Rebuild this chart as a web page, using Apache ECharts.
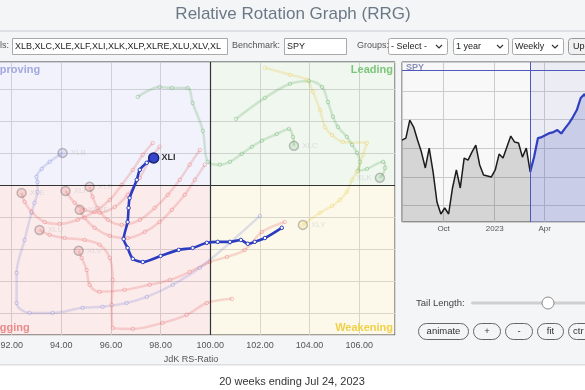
<!DOCTYPE html>
<html><head><meta charset="utf-8">
<script src="https://cdn.jsdelivr.net/npm/echarts@6/dist/echarts.min.js"></script>
<style>
html,body{margin:0;padding:0;background:#fff;}
#c{width:585px;height:390px;background:linear-gradient(#f4f5f7 0,#f4f5f7 364px,#fff 364px);}
</style></head><body><div id="c"></div>
<script>
// ---------- RRG tails (JdK RS-Ratio, JdK RS-Momentum) ----------
const xliX = [102.88,102.20,101.79,101.51,101.23,100.79,100.30,99.86,99.29,98.73,98.00,97.28,96.88,96.67,96.51,96.67,96.71,96.75,97.04,97.16,97.44,97.72];
const xliY = [98.66,98.34,98.22,98.16,98.28,98.22,98.22,98.19,98.03,97.97,97.78,97.59,97.69,98.03,98.31,98.84,99.28,99.59,100.16,100.47,100.69,100.84];

const xlkX = [101.03,102.20,103.21,103.97,104.50,104.74,104.94,105.14,105.50,105.71,105.91,106.03,105.95,106.31,106.96,107.04,106.83];
const xlkY = [102.06,102.72,103.16,103.25,103.06,102.59,102.13,101.81,101.50,101.25,101.00,100.72,100.44,100.50,100.72,100.53,100.22];

const xlcX = [97.08,97.96,98.45,99.09,99.29,99.70,99.90,100.38,100.79,101.27,101.67,102.08,102.68,103.17,103.33,103.37];
const xlcY = [102.75,103.06,103.03,103.03,102.56,101.69,100.72,100.63,100.72,100.97,101.19,101.38,101.59,101.75,101.50,101.22];

const xlyX = [102.20,103.21,103.89,104.13,104.42,104.62,104.90,105.34,106.31,106.15,105.91,105.71,105.50,105.22,104.90,104.42,103.73];
const xlyY = [103.66,103.44,103.28,102.91,102.34,101.81,101.56,101.34,101.31,100.94,100.41,100.16,99.78,99.53,99.34,99.13,98.75];

const xlbX = [102.00,100.79,99.58,98.49,97.44,96.63,95.66,94.86,93.65,92.72,92.20,92.20,92.52,92.80,92.92,93.04,93.04,93.00,93.21,93.53,94.05];
const xlbY = [99.03,98.19,97.41,96.88,96.50,96.31,96.19,96.16,96.00,96.00,96.31,97.25,98.28,99.13,99.44,99.78,100.09,100.25,100.50,100.72,101.00];

const xleX = [97.68,97.28,96.88,96.43,95.95,95.34,94.66,93.93,93.33,92.80,92.52,92.40];
const xleY = [101.31,100.94,100.47,100.00,99.53,99.16,98.91,98.78,98.84,99.16,99.47,99.75];

const xlfX = [97.96,97.56,97.16,96.67,96.15,95.54,94.94,94.54,94.17];
const xlfY = [101.19,100.78,100.22,99.69,99.31,99.13,99.22,99.44,99.81];

const xlpX = [99.58,99.17,98.77,98.29,97.76,97.16,96.43,95.87,95.46,95.26,95.14];
const xlpY = [101.09,100.63,100.16,99.69,99.28,98.91,98.75,98.91,99.28,99.63,99.94];

const xlreX = [99.78,99.38,98.97,98.45,97.96,97.36,96.67,95.95,95.34,94.94,94.74];
const xlreY = [100.63,100.16,99.69,99.22,98.84,98.53,98.34,98.41,98.66,98.97,99.22];

const xluX = [100.87,99.86,99.05,98.08,96.88,96.07,96.03,96.07,95.95,95.54,94.94,94.13,93.53,93.12];
const xluY = [96.44,96.31,95.94,95.69,95.50,95.53,96.25,97.03,97.72,98.13,98.28,98.34,98.44,98.59];

const xlvX = [103.00,102.08,101.39,100.67,99.98,99.17,98.37,97.56,96.55,95.54,95.14,95.02,94.82,94.70];
const xlvY = [98.84,98.53,97.97,97.75,97.59,97.28,97.03,96.88,96.72,96.66,96.88,97.34,97.72,97.94];

// ---------- SPY weekly ----------
const spyDates = ['2022-07-18','2022-07-25','2022-08-01','2022-08-08','2022-08-15','2022-08-22','2022-08-29','2022-09-05','2022-09-12','2022-09-19','2022-09-26','2022-10-03','2022-10-10','2022-10-17','2022-10-24','2022-10-31','2022-11-07','2022-11-14','2022-11-21','2022-11-28','2022-12-05','2022-12-12','2022-12-19','2022-12-26','2023-01-02','2023-01-09','2023-01-16','2023-01-23','2023-01-30','2023-02-06','2023-02-13','2023-02-20','2023-02-27','2023-03-06','2023-03-13','2023-03-20','2023-03-27','2023-04-03','2023-04-10','2023-04-17','2023-04-24','2023-05-01','2023-05-08','2023-05-15','2023-05-22','2023-05-29','2023-06-05','2023-06-12','2023-06-19','2023-06-26','2023-07-03','2023-07-10','2023-07-17','2023-07-24'];
const spyClose = [425.7,427.1,439.7,434.8,425.7,417.3,406.2,420.1,403.4,382.4,374.0,378.2,374.0,392.2,404.8,392.2,413.1,411.7,417.3,422.2,408.3,401.3,400.6,399.9,404.8,415.9,413.1,420.8,428.5,424.3,423.6,413.8,420.1,403.4,
  413.8,427.1,427.8,429.2,430.6,431.3,432.7,430.3,434.1,437.6,441.8,446.7,455.1,457.9,452.0,461.0,457.0,468.0,471.0,474.7];
const tailStartIndex = 33;
const monthNames = ['Jan','Feb','Mar','Apr','May','Jun','Jul','Aug','Sep','Oct','Nov','Dec'];

const quadrantNames = ['Improving','Leading','Lagging','Weakening'];
const symbolsText = 'XLB,XLC,XLE,XLF,XLI,XLK,XLP,XLRE,XLU,XLV,XLY';

// ---------- build ----------
const FONT = 'Arial, "Liberation Sans", sans-serif';
function tail(name, xs, ys, color, headFill, labelPos) {
  const data = xs.map((x, i) => [x, ys[i]]);
  const n = data.length - 1;
  data[n] = {
    value: data[n], symbolSize: 9,
    itemStyle: {color: headFill, borderColor: '#777', borderWidth: 1.5, opacity: 0.45},
    label: {show: true, formatter: name, position: labelPos || 'right', distance: 3, fontSize: 8, color: '#c0c0c0', fontFamily: FONT}
  };
  return {
    type: 'line', name, xAxisIndex: 0, yAxisIndex: 0, data, smooth: 0.35,
    symbol: 'circle', symbolSize: 3.5, silent: true, z: 3,
    lineStyle: {color, width: 2.5, opacity: 0.2},
    itemStyle: {color: '#fff', borderColor: color, borderWidth: 1, opacity: 0.3},
    emphasis: {disabled: true}
  };
}
const RED = '#e04848', REDH = 'rgba(224,72,72,0.35)';
const series = [
  { type: 'line', xAxisIndex: 0, yAxisIndex: 0, data: [[100, 100]], symbol: 'none', lineStyle: {width: 0}, z: 1, silent: true,
    markArea: { silent: true, data: [
      [{xAxis: 90, yAxis: 100, itemStyle: {color: 'rgba(100,110,215,0.09)'}}, {xAxis: 100, yAxis: 103.84}],
      [{xAxis: 100, yAxis: 100, itemStyle: {color: 'rgba(80,170,80,0.09)'}}, {xAxis: 107.44, yAxis: 103.84}],
      [{xAxis: 90, yAxis: 95.31, itemStyle: {color: 'rgba(230,60,60,0.10)'}}, {xAxis: 100, yAxis: 100}],
      [{xAxis: 100, yAxis: 95.31, itemStyle: {color: 'rgba(230,200,60,0.10)'}}, {xAxis: 107.44, yAxis: 100}]
    ]},
    markLine: { silent: true, symbol: 'none', label: {show: false}, lineStyle: {color: '#333', width: 1.2, type: 'solid'},
      data: [{xAxis: 100}, {yAxis: 100}] }
  },
  tail('XLK', xlkX, xlkY, '#3c9a3c', 'rgba(60,154,60,0.3)', 'left'),
  tail('XLC', xlcX, xlcY, '#3c9a3c', 'rgba(60,154,60,0.3)'),
  tail('XLY', xlyX, xlyY, '#e8bf20', 'rgba(232,191,32,0.35)'),
  tail('XLB', xlbX, xlbY, '#6870d0', 'rgba(104,112,208,0.3)'),
  tail('XLE', xleX, xleY, RED, REDH),
  tail('XLF', xlfX, xlfY, RED, REDH),
  tail('XLP', xlpX, xlpY, RED, REDH),
  tail('XLRE', xlreX, xlreY, RED, REDH),
  tail('XLU', xluX, xluY, RED, REDH),
  tail('XLV', xlvX, xlvY, RED, REDH)
];
(function () {
  const data = xliX.map((x, i) => [x, xliY[i]]);
  const n = data.length - 1;
  data[n] = { value: data[n], symbolSize: 10,
    itemStyle: {color: '#3447cc', borderColor: '#1b2170', borderWidth: 1.5},
    label: {show: true, formatter: 'XLI', position: 'right', distance: 2, fontSize: 9, fontWeight: 'bold', color: '#333', fontFamily: FONT} };
  series.push({ type: 'line', name: 'XLI', xAxisIndex: 0, yAxisIndex: 0, data, smooth: 0.25, symbol: 'circle', symbolSize: 3.5, z: 6, silent: true,
    lineStyle: {color: '#2b3cc0', width: 2.6}, itemStyle: {color: '#fff', borderColor: '#2b3cc0', borderWidth: 1}, emphasis: {disabled: true} });
})();

// SPY
series.push({ type: 'line', xAxisIndex: 1, yAxisIndex: 1, silent: true, z: 3, symbol: 'none',
  data: spyDates.slice(0, tailStartIndex + 1).map((d, i) => [d, spyClose[i]]),
  lineStyle: {color: '#1c1c1c', width: 1.5}, areaStyle: {color: 'rgba(0,0,0,0.14)', opacity: 1} });
series.push({ type: 'line', xAxisIndex: 1, yAxisIndex: 1, silent: true, z: 4, symbol: 'none',
  data: spyDates.slice(tailStartIndex).map((d, i) => [d, spyClose[i + tailStartIndex]]),
  lineStyle: {color: '#2f3fc0', width: 2.2}, areaStyle: {color: 'rgba(50,60,170,0.18)', opacity: 1},
  markArea: {silent: true, itemStyle: {color: 'rgba(90,100,200,0.07)'}, data: [[{xAxis: spyDates[tailStartIndex]}, {xAxis: '2023-07-26'}]]},
  markLine: {silent: true, symbol: 'none', label: {show: false}, lineStyle: {color: '#4c58bc', width: 1, type: 'solid'},
    data: [{xAxis: spyDates[tailStartIndex]}, {yAxis: spyClose[spyClose.length - 1]}]} });

// ---------- graphics ----------
function txt(x, y, text, size, fill, align, extra) {
  return { type: 'text', x, y, z: 50, silent: true,
    style: Object.assign({ text, fontSize: size, fill, fontFamily: FONT, align: align || 'left', textAlign: align || 'left', verticalAlign: 'middle', textVerticalAlign: 'middle' }, extra || {}) };
}
function box(x, y, w, h, r, fill, stroke) {
  return { type: 'rect', z: 49, silent: true, shape: {x, y, width: w, height: h, r: r || 0}, style: {fill: fill || 'none', stroke: stroke || 'none', lineWidth: 1} };
}
function chevron(x, y) {
  return { type: 'polyline', z: 50, silent: true, shape: {points: [[x - 3, y - 1.5], [x, y + 1.5], [x + 3, y - 1.5]]}, style: {stroke: '#333', lineWidth: 1.2, fill: 'none'} };
}
const graphics = [
  box(0, 30, 585, 2, 0, '#dcdfe3'),
  txt(293, 14, 'Relative Rotation Graph (RRG)', 17, '#6b7886', 'center'),
  txt(9, 46, 'Symbols:', 9, '#555', 'right'),
  box(12.5, 38.5, 215, 16, 0, '#fff', '#a9a9a9'),
  txt(15, 46.5, symbolsText, 9, '#222', 'left', {width: 211, overflow: 'truncate', ellipsis: ''}),
  txt(232, 46, 'Benchmark:', 9, '#555'),
  box(284.5, 38.5, 62, 16, 0, '#fff', '#a9a9a9'),
  txt(287, 46.5, 'SPY', 9, '#222'),
  txt(357, 46, 'Groups:', 9, '#555'),
  box(388.5, 38.5, 59, 16, 2, '#fff', '#a9a9a9'), txt(391, 46.5, '- Select -', 9, '#222'), chevron(439, 46.5),
  box(453.5, 38.5, 55, 16, 2, '#fff', '#a9a9a9'), txt(456, 46.5, '1 year', 9, '#222'), chevron(500, 46.5),
  box(512.5, 38.5, 51, 16, 2, '#fff', '#a9a9a9'), txt(515, 46.5, 'Weekly', 9, '#222'), chevron(555, 46.5),
  box(568.5, 38.5, 40, 16, 3, '#f0f0f0', '#999'), txt(573, 46.5, 'Update', 9, '#222'),
  txt(-13, 70, quadrantNames[0], 11, '#a3a9de', 'left', {fontWeight: 'bold'}),
  txt(393, 70, quadrantNames[1], 11, '#7cc57c', 'right', {fontWeight: 'bold'}),
  txt(-13, 328, quadrantNames[2], 11, '#e98b8b', 'left', {fontWeight: 'bold'}),
  txt(393, 328, quadrantNames[3], 11, '#f1d048', 'right', {fontWeight: 'bold'}),
  txt(406, 68, 'SPY', 9, '#8a90b8', 'left', {fontWeight: 'bold'}),
  txt(416, 303, 'Tail Length:', 9.5, '#444'),
  box(471, 301.5, 130, 3, 1.5, '#cfcfcf'),
  { type: 'circle', z: 51, silent: true, shape: {cx: 548, cy: 303, r: 6}, style: {fill: '#fff', stroke: '#8a8a8a', lineWidth: 1} },
  box(418.5, 323.5, 50, 16, 8, 'none', '#666'), txt(443.5, 331.5, 'animate', 9.5, '#333', 'center'),
  box(473.5, 323.5, 27, 16, 8, 'none', '#666'), txt(487, 331.5, '+', 9.5, '#333', 'center'),
  box(505.5, 323.5, 27, 16, 8, 'none', '#666'), txt(519, 331.5, '-', 9.5, '#333', 'center'),
  box(537.5, 323.5, 26, 16, 8, 'none', '#666'), txt(550.5, 331.5, 'fit', 9.5, '#333', 'center'),
  box(568.5, 323.5, 30, 16, 8, 'none', '#666'), txt(573, 331.5, 'ctr', 9.5, '#333', 'left'),
  box(0, 364, 585, 1.5, 0, '#dedede'),
  txt(292, 382, '20 weeks ending Jul 24, 2023', 11, '#333', 'center')
];

const chart = echarts.init(document.getElementById('c'), null, {renderer: 'canvas'});
chart.setOption({
  animation: false,
  backgroundColor: 'transparent',
  textStyle: {fontFamily: FONT},
  grid: [
    {left: -38, top: 62, width: 433, height: 273, show: true, backgroundColor: '#ffffff', borderColor: '#3a3a3a', borderWidth: 1, containLabel: false, outerBoundsMode: 'none'},
    {left: 402, top: 62, width: 207, height: 160, show: true, backgroundColor: '#f8f8f8', borderColor: '#555', borderWidth: 1, containLabel: false, outerBoundsMode: 'none'}
  ],
  xAxis: [
    {type: 'value', gridIndex: 0, min: 90, max: 107.44, interval: 2,
     axisLine: {show: false}, axisTick: {show: false},
     axisLabel: {fontSize: 9, color: '#555', margin: 6, showMaxLabel: false, formatter: v => v.toFixed(2)},
     splitLine: {lineStyle: {color: '#d9d9d9', width: 1}},
     name: 'JdK RS-Ratio', nameLocation: 'middle', nameGap: 13, nameTextStyle: {fontSize: 9, color: '#555', padding: [0, 0, 0, 25]}},
    {type: 'time', gridIndex: 1, min: '2022-07-18', max: '2023-07-26', splitNumber: 4,
     axisLine: {show: false}, axisTick: {show: false},
     axisLabel: {fontSize: 8, color: '#555', margin: 3, showMinLabel: false, showMaxLabel: false, fontWeight: 'normal',
       formatter: function (v) { const d = new Date(v); return d.getMonth() === 0 ? String(d.getFullYear()) : monthNames[d.getMonth()]; }},
     splitLine: {show: true, lineStyle: {color: '#cccccc', width: 1}}}
  ],
  yAxis: [
    {type: 'value', gridIndex: 0, min: 95.31, max: 103.84, splitNumber: 8,
     axisLine: {show: false}, axisTick: {show: false}, axisLabel: {show: false},
     splitLine: {lineStyle: {color: '#d9d9d9', width: 1}}},
    {type: 'value', gridIndex: 1, min: 368.4, max: 480.3, splitNumber: 5, position: 'right',
     axisLine: {show: false}, axisTick: {show: false}, axisLabel: {show: false},
     splitLine: {lineStyle: {color: '#cccccc', width: 1}}}
  ],
  graphic: {elements: graphics},
  series
});
</script>
</body></html>
